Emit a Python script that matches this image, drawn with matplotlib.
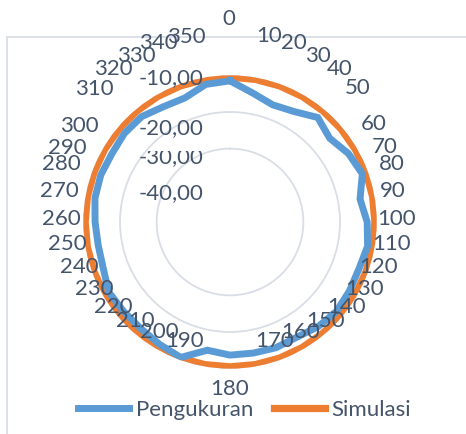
import matplotlib
matplotlib.use("Agg")
import matplotlib.pyplot as plt
import numpy as np
from matplotlib.patches import Rectangle

# Angles (degrees) and measured / simulated values (dB)
angles = list(range(0, 360, 10))
pengukuran = [-11.5, -14.3, -16.0, -15.2, -12.8, -14.5, -12.7, -11.6, -14.0,
              -12.6, -11.9, -12.6, -12.4, -12.1, -12.7, -13.7, -13.5, -13.7,
              -13.7, -14.5, -10.7, -11.5, -12.1, -12.1, -11.8, -13.2, -13.5,
              -13.2, -12.6, -12.5, -12.8, -12.4, -12.5, -13.7, -14.0, -11.9]
simulasi = [-10.5] * 36
r_ticks = [-10, -20, -30, -40]
r_tick_labels = ['-10,00', '-20,00', '-30,00', '-40,00']

# Layout: pixel centres of the category labels (Excel placed them oddly)
cat_label_px = [(229, 19), (269, 36), (294, 43), (318, 56), (340, 69), (358, 88),
                (374, 124), (385, 147), (392, 164), (393, 191), (397, 219), (392, 244),
                (379, 267), (365, 289), (347, 307), (326, 321), (301, 332), (275, 341),
                (230, 389), (185, 341), (159, 332), (135, 321), (113, 307), (94, 289),
                (79, 267), (67, 244), (61, 219), (59, 191), (61, 164), (67, 148),
                (79, 126), (94, 89), (113, 69), (136, 56), (158, 43), (186, 37)]
# pixel y of the value labels (right edge at x=204)
r_label_py = [78, 128, 157, 193]

W, H = 466, 434
text_col = '#44546A'
fs = 16
plt.rcParams['font.family'] = ['Lato', 'DejaVu Sans']

fig = plt.figure(figsize=(W / 100, H / 100), dpi=100)

# chart area border (cut off on right and bottom)
fig.patches.append(Rectangle((7 / W, -0.1), 1.2, 1 - 37 / H + 0.1,
                             transform=fig.transFigure, fill=False,
                             edgecolor='#D9DEE6', lw=1.3))

ax = fig.add_axes([0.1788, 0.1505, 0.6296, 0.676], projection='polar')
ax.set_theta_zero_location('N')
ax.set_theta_direction(-1)

theta = np.deg2rad(angles + [angles[0]])
l1, = ax.plot(theta, pengukuran + [pengukuran[0]], color='#5B9BD5', lw=5.0,
              solid_joinstyle='miter', zorder=3, label='Pengukuran')
l2, = ax.plot(theta, simulasi + [simulasi[0]], color='#ED7D31', lw=5.2,
              zorder=2, label='Simulasi')

ax.set_rlim(-50, -10)
ax.set_rgrids([-30, -20, -10], labels=['', '', ''])
ax.set_thetagrids(angles, labels=[''] * len(angles))
ax.xaxis.grid(False)
ax.yaxis.grid(True, color='#D9DEE6', lw=1.3)
ax.spines['polar'].set_visible(False)
ax.patch.set_alpha(0)

for (px, py), a in zip(cat_label_px, angles):
    fig.text(px / W, 1 - py / H, str(a), ha='center', va='center',
             fontsize=fs, color=text_col)

for py, lab in zip(r_label_py, r_tick_labels):
    t = fig.text(204 / W, 1 - py / H, lab, ha='right', va='center',
                 fontsize=fs, color=text_col, zorder=5)
    if lab == '-30,00':
        # top of this label is hidden in the reference
        clip = Rectangle((0, 0), 1, 1 - 151 / H, transform=fig.transFigure)
        t.set_clip_path(clip)

fig.legend(handles=[l1, l2], loc='center', bbox_to_anchor=(0.525, 1 - 410 / H),
           ncol=2, frameon=False, fontsize=fs, handlelength=2.3,
           handletextpad=0.3, columnspacing=0.9, labelcolor=text_col)

fig.savefig('out.png', dpi=100)
